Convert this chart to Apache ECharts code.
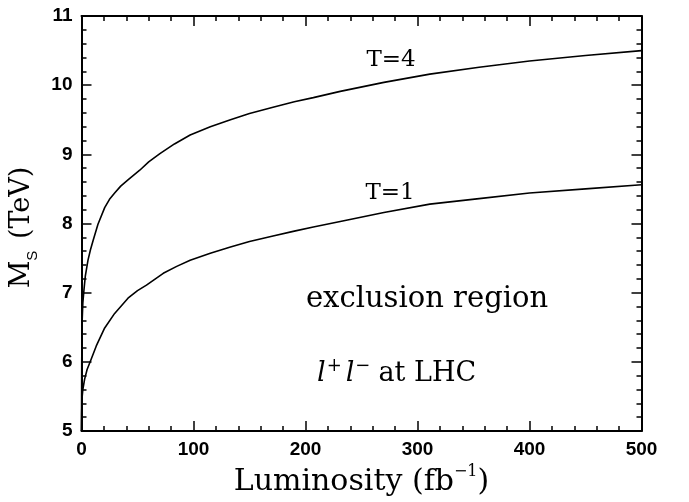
<!DOCTYPE html>
<html>
<head>
<meta charset="utf-8">
<script src="https://cdn.jsdelivr.net/npm/echarts@6/dist/echarts.min.js"></script>
<style>
  html, body { margin: 0; padding: 0; background: #fff; }
  #chart { width: 689px; height: 502px; }
</style>
</head>
<body>
<div id="chart"></div>
<script>
// Axis ticks
const xTicks = [0, 100, 200, 300, 400, 500];
const yTicks = [5, 6, 7, 8, 9, 10, 11];

// Reach in M_S (TeV) versus integrated luminosity (fb^-1)
const lumiT4 = [0, 0.2, 0.6, 1.2, 2.2, 3.4, 5.8, 8, 10.3, 14.7, 20.7, 25, 29.6, 35, 41.5, 52, 60, 70, 83, 97, 115, 133, 150, 171, 190, 207, 231, 270, 311, 355, 400, 450, 500];
const msT4   = [5.0, 6.0, 6.6, 6.85, 7.04, 7.24, 7.47, 7.62, 7.75, 7.99, 8.23, 8.35, 8.44, 8.54, 8.63, 8.77, 8.89, 9.01, 9.15, 9.28, 9.4, 9.5, 9.59, 9.68, 9.76, 9.82, 9.91, 10.04, 10.16, 10.26, 10.35, 10.43, 10.5];

const lumiT1 = [0, 0.15, 0.45, 1.2, 2.8, 5, 8.2, 13.2, 20.7, 29.6, 41.5, 50, 58, 73, 85, 97, 115, 133, 150, 171, 190, 207, 231, 270, 311, 355, 400, 450, 500];
const msT1   = [5.0, 5.25, 5.47, 5.6, 5.75, 5.89, 6.02, 6.23, 6.49, 6.70, 6.92, 7.03, 7.11, 7.28, 7.38, 7.47, 7.57, 7.66, 7.74, 7.82, 7.89, 7.95, 8.03, 8.16, 8.28, 8.36, 8.44, 8.5, 8.56];

const curveLabels = ['T=4', 'T=1'];

const SERIF = '"DejaVu Serif", "Liberation Serif", serif';
const SANS = '"Liberation Sans", Arial, sans-serif';

const xMin = xTicks[0], xMax = xTicks[xTicks.length - 1], xStep = xTicks[1] - xTicks[0];
const yMin = yTicks[0], yMax = yTicks[yTicks.length - 1], yStep = yTicks[1] - yTicks[0];

// Shared style for the four framing axes: inward major and minor ticks
function frameAxis(extra) {
  return Object.assign({
    type: 'value',
    axisLine: { show: true, onZero: false, lineStyle: { color: '#000', width: 2 } },
    axisTick: { show: true, inside: true, length: 10, lineStyle: { color: '#000', width: 1.5 } },
    minorTick: { show: true, splitNumber: 5, length: 5, lineStyle: { color: '#000', width: 1.5 } },
    splitLine: { show: false },
    minorSplitLine: { show: false }
  }, extra);
}

const tickLabel = {
  color: '#000', fontFamily: SANS, fontWeight: 'bold', fontSize: 19
};

const chart = echarts.init(document.getElementById('chart'), null, { renderer: 'canvas' });

const option = {
  animation: false,
  backgroundColor: '#fff',
  grid: { left: 81.5, right: 47.5, top: 16, bottom: 66 },
  xAxis: [
    frameAxis({
      position: 'bottom', min: xMin, max: xMax, interval: xStep,
      axisLabel: Object.assign({ margin: 9 }, tickLabel),
      name: '{t|Luminosity (fb}{s|\u22121}{t|)}',
      nameLocation: 'middle', nameGap: 33,
      nameTextStyle: {
        rich: {
          t: { fontFamily: SERIF, fontSize: 30, color: '#000', lineHeight: 36 },
          s: { fontFamily: SERIF, fontSize: 16, color: '#000', lineHeight: 26, verticalAlign: 'top' }
        }
      }
    }),
    frameAxis({
      position: 'top', min: xMin, max: xMax, interval: xStep,
      axisLabel: { show: false }
    })
  ],
  yAxis: [
    frameAxis({
      position: 'left', min: yMin, max: yMax, interval: yStep,
      axisLabel: Object.assign({ margin: 9 }, tickLabel),
      name: '{t|M}{s|S}{t| (TeV)}',
      nameLocation: 'middle', nameRotate: 90, nameGap: 30,
      nameTextStyle: {
        padding: [0, 8, 0, 0],
        rich: {
          t: { fontFamily: SERIF, fontSize: 27, color: '#000', lineHeight: 36 },
          s: { fontFamily: SANS, fontSize: 15, color: '#000', lineHeight: 25, verticalAlign: 'bottom', padding: [0, 3, 0, 0] }
        }
      }
    }),
    frameAxis({
      position: 'right', min: yMin, max: yMax, interval: yStep,
      axisLabel: { show: false }
    })
  ],
  series: [
    {
      name: curveLabels[0], type: 'line', xAxisIndex: 0, yAxisIndex: 0,
      data: lumiT4.map((x, i) => [x, msT4[i]]),
      showSymbol: false, smooth: false, clip: true,
      lineStyle: { color: '#000', width: 1.6 }
    },
    {
      name: curveLabels[1], type: 'line', xAxisIndex: 0, yAxisIndex: 0,
      data: lumiT1.map((x, i) => [x, msT1[i]]),
      showSymbol: false, smooth: false, clip: true,
      lineStyle: { color: '#000', width: 1.6 }
    }
  ],
  graphic: [
    { type: 'text', x: 391, y: 60, style: { text: curveLabels[0], fontFamily: SERIF, fontSize: 23, fill: '#000', align: 'center', verticalAlign: 'middle' } },
    { type: 'text', x: 390, y: 193, style: { text: curveLabels[1], fontFamily: SERIF, fontSize: 23, fill: '#000', align: 'center', verticalAlign: 'middle' } },
    { type: 'text', x: 427, y: 299, style: { text: 'exclusion region', fontFamily: SERIF, fontSize: 29, fill: '#000', align: 'center', verticalAlign: 'middle' } },
    {
      type: 'text', x: 316, y: 374,
      style: {
        text: '{l|l}{p|+}{l|l}{q|\u2212}{t|at LHC}',
        align: 'left', verticalAlign: 'middle',
        rich: {
          l: { fontFamily: SERIF, fontStyle: 'italic', fontSize: 27, fill: '#000', lineHeight: 34, padding: [0, 1, 0, 1] },
          p: { fontFamily: SERIF, fontSize: 18, fill: '#000', lineHeight: 24, verticalAlign: 'top', padding: [0, 3, 0, 0] },
          q: { fontFamily: SERIF, fontSize: 18, fill: '#000', lineHeight: 24, verticalAlign: 'top', padding: [0, 8, 0, 0] },
          t: { fontFamily: SERIF, fontSize: 27, fill: '#000', lineHeight: 34 }
        }
      }
    }
  ]
};

chart.setOption(option);
</script>
</body>
</html>
